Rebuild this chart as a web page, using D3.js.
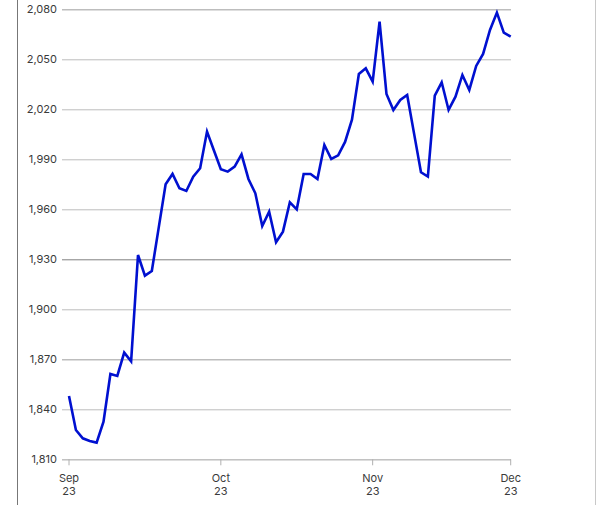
<!DOCTYPE html>
<html>
<head>
<meta charset="utf-8">
<script src="https://cdn.jsdelivr.net/npm/d3@7"></script>
<style>
  html, body { margin: 0; padding: 0; background: #fff; }
  svg { display: block; }
  text { font-family: Inter, "Liberation Sans", sans-serif; }
</style>
</head>
<body>
<svg id="chart" width="609" height="505"></svg>
<script>
// ---- data ----
const values = [
  1848, 1827.6, 1822.6, 1821, 1820, 1832.6, 1861.2, 1860, 1874, 1868.8,
  1932.6, 1920.2, 1923, 1949, 1975, 1981.2, 1972.6, 1971, 1979.6, 1984.6,
  2006.6, 1995.3, 1984, 1982.6, 1985.6, 1993, 1978.2, 1969.6, 1950, 1958.6,
  1940.2, 1946.6, 1964.2, 1960, 1981.2, 1981.2, 1978.2, 1998.6, 1990.2, 1992.4,
  2000.4, 2013.8, 2041.2, 2044.6, 2036.6, 2072.6, 2029.2, 2019.6, 2025.6, 2028.6,
  2005.4, 1982.2, 1979.6, 2028.2, 2036.2, 2019.6, 2027.6, 2040.6, 2031.6, 2046,
  2053.2, 2067.6, 2078, 2066, 2063.6
];
const monthTickIndex = [0, 22, 44, 64];
const monthTickLabels = [["Sep", "23"], ["Oct", "23"], ["Nov", "23"], ["Dec", "23"]];
const yTicks = [1810, 1840, 1870, 1900, 1930, 1960, 1990, 2020, 2050, 2080];

// ---- layout ----
const svg = d3.select("#chart");
const plotLeft = 62, plotRight = 511, lineStart = 69;
const yTop = 9.3, yBottom = 459.3;

const x = d3.scaleLinear().domain([0, values.length - 1]).range([lineStart, 510.7]);
const y = d3.scaleLinear().domain([1810, 2080]).range([yBottom, yTop]);

// frame lines
svg.append("line").attr("x1", 17.5).attr("x2", 17.5).attr("y1", 0).attr("y2", 505)
  .attr("stroke", "#777").attr("stroke-width", 1);
svg.append("line").attr("x1", 595.5).attr("x2", 595.5).attr("y1", 0).attr("y2", 505)
  .attr("stroke", "#c8c8c8").attr("stroke-width", 1);

// y gridlines via axis
const yAxis = d3.axisLeft(y).tickValues(yTicks).tickFormat(d3.format(","))
  .tickSize(-(plotRight - plotLeft)).tickPadding(5);
const gy = svg.append("g").attr("transform", `translate(${plotLeft},0)`).call(yAxis);
gy.select(".domain").remove();
gy.selectAll(".tick line")
  .attr("stroke", d => d === 1930 ? "#808080" : "#bdbdbd")
  .attr("stroke-width", d => (d === 2080 || d === 1870) ? 1.6 : 1);
gy.selectAll(".tick text").attr("fill", "#3a3a3a").style("font-size", "11px");

// x axis
const gx = svg.append("g").attr("transform", `translate(0,${yBottom})`);
gx.append("line").attr("x1", plotLeft).attr("x2", plotRight).attr("y1", 0.5).attr("y2", 0.5)
  .attr("stroke", "#bdbdbd");
const xt = gx.selectAll("g.xtick").data(monthTickIndex).join("g")
  .attr("class", "xtick").attr("transform", d => `translate(${x(d)},0)`);
xt.append("line").attr("y1", 0).attr("y2", 6).attr("stroke", "#b0b0b0");
xt.each(function(d, i) {
  const t = d3.select(this).append("text").attr("text-anchor", "middle")
    .attr("fill", "#3a3a3a").style("font-size", "11px");
  monthTickLabels[i].forEach((s, j) => {
    t.append("tspan").attr("x", 0).attr("y", 23 + j * 12.5).text(s);
  });
});

// line
const line = d3.line().x((d, i) => x(i)).y(d => y(d));
svg.append("path").datum(values).attr("d", line)
  .attr("fill", "none").attr("stroke", "#0010d0").attr("stroke-width", 2.6)
  .attr("stroke-linejoin", "miter").attr("stroke-linecap", "butt");
</script>
</body>
</html>
